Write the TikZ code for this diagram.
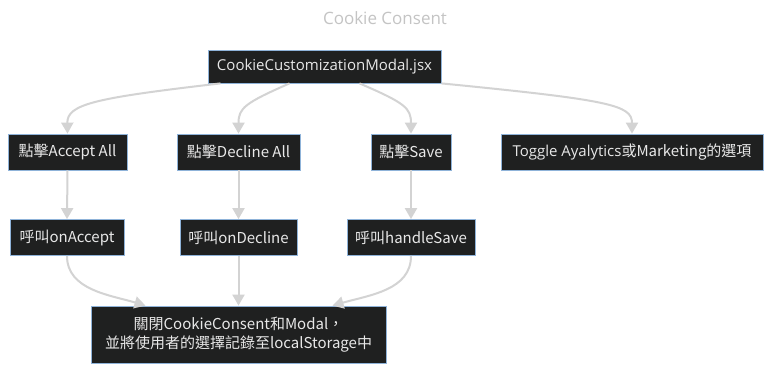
\documentclass[tikz,border=0pt]{standalone}
\usepackage{fontspec}
\setmainfont{Open Sans}
\newfontfamily\cjk{Noto Sans CJK TC}
\usetikzlibrary{arrows.meta}
\definecolor{boxfill}{HTML}{1F2020}
\definecolor{boxline}{HTML}{8FB3D9}
\definecolor{edgegray}{HTML}{D3D3D3}
\definecolor{boxtext}{HTML}{E8E8E8}
\definecolor{titlegray}{HTML}{C4C4C4}
\begin{document}
\begin{tikzpicture}[x=1pt,y=-1pt,
  box/.style={draw=boxline, line width=0.8pt, fill=boxfill, text=boxtext,
    inner sep=0pt, align=center, font=\fontsize{15}{19}\selectfont},
  flow/.style={draw=edgegray, line width=2pt,
    -{Triangle[length=11pt,width=12pt]}}]
\fill[white] (0,0) rectangle (771,371);
\useasboundingbox (0,0) rectangle (771,371);

% title
\node[text=titlegray, font=\fontsize{17}{20}\selectfont] (title) at (385,18) {Cookie Consent};

% component
\node[box, minimum width=233pt, minimum height=33pt] (main) at (324.5,66.5) {CookieCustomizationModal.jsx};

% user actions
\node[box, minimum width=119pt, minimum height=36pt] (acc) at (67.5,152) {\cjk{點擊}Accept All};
\node[box, minimum width=123pt, minimum height=36pt] (dec) at (238.5,152) {\cjk{點擊}Decline All};
\node[box, minimum width=80pt, minimum height=36pt] (sav) at (411,152) {\cjk{點擊}Save};
\node[box, minimum width=262pt, minimum height=36pt] (tog) at (632,152) {Toggle Ayalytics\cjk{或}Marketing\cjk{的選項}};

% handlers
\node[box, minimum width=114pt, minimum height=36pt] (oacc) at (67,237.5) {\cjk{呼叫}onAccept};
\node[box, minimum width=117pt, minimum height=36pt] (odec) at (238.5,237.5) {\cjk{呼叫}onDecline};
\node[box, minimum width=128pt, minimum height=36pt] (hsv) at (411,237.5) {\cjk{呼叫}handleSave};

% result
\node[box, minimum width=295pt, minimum height=57pt] (fin) at (238.5,334.5)
  {\cjk{關閉}CookieConsent\cjk{和}Modal\cjk{，}\\\cjk{並將使用者的選擇記錄至}localStorage\cjk{中}};

% connectors
\draw[flow] ([xshift=-104pt]main.south) .. controls (95,98) and (67,104) .. (acc.north);
\draw[flow] ([xshift=-35pt]main.south) .. controls (245,103) and (238.5,108) .. (dec.north);
\draw[flow] ([xshift=35pt]main.south) .. controls (405,103) and (411,108) .. (sav.north);
\draw[flow] (main.south east) .. controls (610,100) and (632,105) .. (tog.north);

\draw[flow] (acc.south) -- (oacc.north);
\draw[flow] (dec.south) -- (odec.north);
\draw[flow] (sav.south) -- (hsv.north);

\draw[flow] (oacc.south) .. controls (67,290) and (110,295) .. ([xshift=-93pt]fin.north);
\draw[flow] (odec.south) -- (fin.north);
\draw[flow] (hsv.south) .. controls (411,290) and (370,295) .. ([xshift=94pt]fin.north);
\end{tikzpicture}
\end{document}
